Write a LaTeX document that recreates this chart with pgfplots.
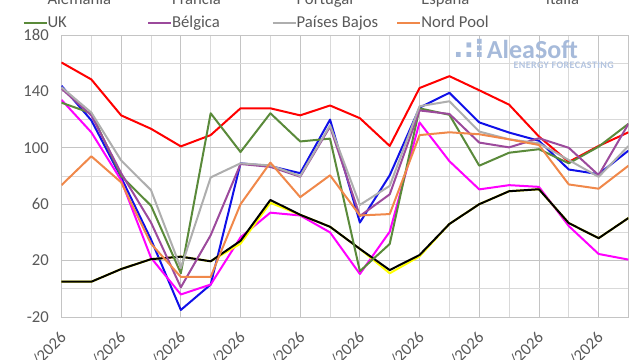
\documentclass[border=0pt]{standalone}
\usepackage{pgfplots}
\pgfplotsset{compat=1.18}
\usepackage{pgfplotstable}
\usepackage{fontspec}
\setmainfont{Carlito}
\newfontfamily\dejavu{DejaVu Sans}
\definecolor{cAle}{HTML}{1010E8}
\definecolor{cFra}{HTML}{FF00FF}
\definecolor{cPor}{HTML}{FFFF00}
\definecolor{cEsp}{HTML}{000000}
\definecolor{cIta}{HTML}{FF0000}
\definecolor{cUK}{HTML}{5A8A3A}
\definecolor{cBel}{HTML}{9C4A9C}
\definecolor{cPB}{HTML}{AEAEAE}
\definecolor{cNP}{HTML}{F0884A}
\definecolor{gridc}{HTML}{D9D9D9}
\definecolor{gridd}{HTML}{C4C4C4}
\definecolor{txt}{HTML}{595959}
\definecolor{logo}{HTML}{A6BADA}

\pgfplotstableread{
i Ale Fra Por Esp Ita UK Bel PB NP
0 144 134 5 5 160.5 132 142 143 73.5
1 119.5 111 5 5 148.5 124.5 123 125 94
2 79 77 14 14 123 80 82 91 75.5
3 35 22 21 21 113.5 59 47 70 32
4 -15 -4 22.8 22.8 101 11 1 14.7 8.4
5 3 3 19.5 19.5 109 124.5 38 79 8.5
6 89 36.5 32 34 128 97 88.5 89 60
7 87 54 61 63 128 124.5 86.5 87.5 89.5
8 82 52 52.5 52.5 123 104.5 79.5 80 65
9 120 40 44 44 130 106.5 115 116 80.5
10 47 10.5 28.3 28.3 121 12.5 51.6 59.5 52
11 80.5 40.5 11 13.3 101.3 31.8 67 73 53
12 128.5 118 23 24 142.4 128 126.5 129.5 109
13 139 90.5 46 46 150.8 123.4 124 133 111
14 118 70.5 60 60 140.8 87.3 103.7 111.5 109.6
15 110.8 73.5 69.2 69.2 130.6 96.5 100.3 106 106
16 105 72.3 70.6 70.6 108 99 106.8 103.2 102
17 84.6 44.5 46.6 46.6 90 89 100 91.3 74
18 81.3 24.7 35.9 35.9 101.3 100.8 80.6 79.4 71
19 98 20.7 50.2 50.2 111 117 117 101.3 87.3
}\datatable

\begin{document}
\begin{tikzpicture}[x=1pt,y=1pt]
\useasboundingbox (0,0) rectangle (480,270);
\clip (0,0) rectangle (480,270);
\begin{axis}[
  at={(46.1pt,32.25pt)}, anchor=south west,
  scale only axis, width=425.25pt, height=211.5pt,
  xmin=0, xmax=19, ymin=-20, ymax=180,
  xtick={0,2,...,18},
  minor xtick={1,3,...,19},
  xticklabels={01/03/2026,03/03/2026,05/03/2026,07/03/2026,09/03/2026,11/03/2026,13/03/2026,15/03/2026,17/03/2026,19/03/2026},
  ytick={-20,20,60,100,140,180},
  minor ytick={0,40,80,120,160},
  grid=both,
  major grid style={draw=gridd, line width=0.6pt},
  minor grid style={draw=gridc, line width=0.6pt},
  axis line style={draw=gridd, line width=0.6pt},
  major tick length=0pt, minor tick length=0pt,
  /pgf/number format/assume math mode=true,
  tick label style={font=\fontsize{12.5}{14}\selectfont, text=txt},
  yticklabel style={xshift=-6pt},
  xticklabel style={inner sep=0pt, xshift=-2pt, yshift=-9.5pt, rotate=45, anchor=north east},
  legend columns=5,
  legend cell align=left,
  legend image code/.code={\draw[#1] (0pt,0pt) -- (17.25pt,0pt);},
  legend style={at={(axis description cs:-0.0687,1.155)}, anchor=north west,
    draw=none, fill=none, inner sep=0pt, outer sep=0pt,
    row sep=5.5pt,
    font=\fontsize{12.5}{14}\selectfont, text=txt,
    nodes={inner sep=0pt, text height=10pt, text depth=2pt},
    /tikz/every even column/.append style={column sep=1.7pt}},
  every axis plot/.append style={line width=1.5pt, line join=round},
]
\addplot[cAle] table[x=i,y=Ale]{\datatable}; \addlegendentry{\makebox[73pt][l]{Alemania}}
\addplot[cFra] table[x=i,y=Fra]{\datatable}; \addlegendentry{\makebox[73pt][l]{Francia}}
\addplot[cPor] table[x=i,y=Por]{\datatable}; \addlegendentry{\makebox[73pt][l]{Portugal}}
\addplot[cEsp] table[x=i,y=Esp]{\datatable}; \addlegendentry{\makebox[73pt][l]{España}}
\addplot[cIta] table[x=i,y=Ita]{\datatable}; \addlegendentry{\makebox[73pt][l]{Italia}}
\addplot[cUK] table[x=i,y=UK]{\datatable}; \addlegendentry{\makebox[73pt][l]{UK}}
\addplot[cBel] table[x=i,y=Bel]{\datatable}; \addlegendentry{\makebox[73pt][l]{Bélgica}}
\addplot[cPB] table[x=i,y=PB]{\datatable}; \addlegendentry{\makebox[73pt][l]{Países Bajos}}
\addplot[cNP] table[x=i,y=NP]{\datatable}; \addlegendentry{\makebox[73pt][l]{Nord Pool}}
\end{axis}
\node[anchor=base east, text=logo, font=\dejavu\bfseries\fontsize{20}{20}\selectfont, inner sep=0pt] at (363.5,227) {.:⁝};
\node[anchor=base west, text=logo, font=\bfseries\fontsize{19.5}{20}\selectfont, inner sep=0pt] at (365,226.3) {AleaSoft};
\node[anchor=base west, text=logo!85, font=\bfseries\fontsize{7.5}{8}\selectfont\addfontfeature{LetterSpace=4}, inner sep=0pt] at (385,218.8) {ENERGY FORECASTING};
\end{tikzpicture}
\end{document}
